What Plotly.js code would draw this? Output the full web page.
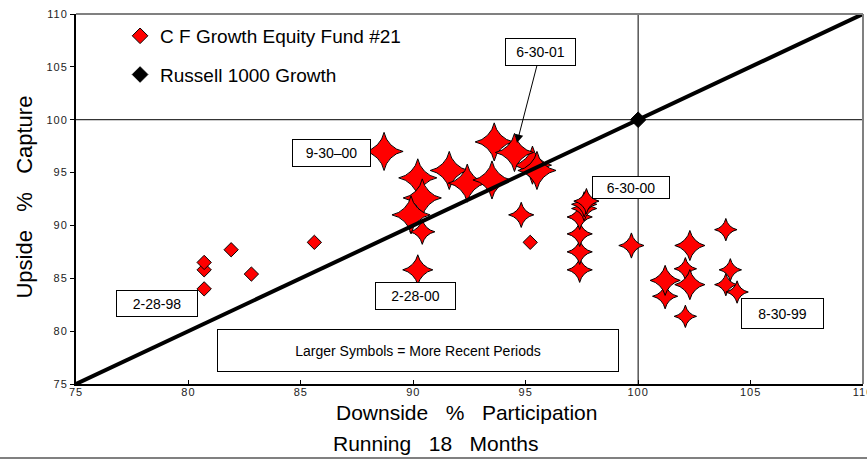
<!DOCTYPE html>
<html><head><meta charset="utf-8">
<script src="https://cdn.plot.ly/plotly-3.0.1.min.js"></script>
<style>
html,body{margin:0;padding:0;background:#fff;}
#chart{width:867px;height:459px;}
.xtick text, .ytick text { letter-spacing: 1px; }
</style>
</head><body><div id="chart"></div>
<script>
// ---- data ----
const seriesName = 'C F Growth Equity Fund #21';
const benchName = 'Russell 1000 Growth';
// Downside % participation (x) and Upside % capture (y), running 18 months
const fundDownside = [80.7, 80.7, 80.7, 81.9, 82.8, 85.6, 95.2,
  103.9, 104.1, 103.9, 104.4, 102.1, 102.1,
  101.2, 99.7, 97.4, 97.4, 97.4, 97.4, 94.8, 90.4, 97.6, 97.6, 97.7,
  101.2, 102.3, 102.3, 90.2,
  88.7, 90.2, 90.4, 89.9, 91.6, 92.4, 93.5, 93.6, 95.3, 95.5, 94.5];
const fundUpside = [84.0, 85.8, 86.5, 87.7, 85.4, 88.4, 88.4,
  89.6, 85.8, 84.4, 83.7, 81.4, 85.9,
  83.3, 88.1, 85.8, 87.5, 89.2, 90.8, 91.0, 89.4, 91.6, 92.0, 92.3,
  84.8, 84.4, 88.1, 85.8,
  97.0, 94.5, 92.6, 91.0, 95.2, 94.0, 94.3, 97.9, 95.7, 95.2, 96.9];
// recency tier of each period (1 = oldest ... 5 = most recent)
const fundTier = [1, 1, 1, 1, 1, 1, 1,
  2, 2, 2, 2, 2, 2,
  3, 3, 3, 3, 3, 3, 3, 3, 3, 3, 3,
  4, 4, 4, 4,
  5, 5, 5, 5, 5, 5, 5, 5, 5, 5, 5];
const benchDownside = [100];
const benchUpside = [100];
const parityX = [75, 110];
const parityY = [75, 110];
const xTickVals = [75, 80, 85, 90, 95, 100, 105, 110];
const yTickVals = [75, 80, 85, 90, 95, 100, 105, 110];
const periodLabels = ['6-30-01', '9-30\u201300', '6-30-00', '2-28-98', '2-28-00', '8-30-99'];
const noteText = 'Larger Symbols = More Recent Periods';
const xTitle1 = 'Downside\u00a0\u00a0 %\u00a0\u00a0 Participation';
const xTitle2 = 'Running\u00a0\u00a0 18\u00a0\u00a0 Months';
const yTitle = 'Upside\u00a0\u00a0 %\u00a0\u00a0 Capture';

// ---- styles ----
const tierSymbol = {1:'diamond', 2:'star-diamond', 3:'star-diamond', 4:'star-diamond', 5:'star-square'};
const tierSize = {1:11, 2:16, 3:18, 4:21.5, 5:24.5};
const tierAngle = {1:0, 2:0, 3:0, 4:0, 5:45};
const RED = '#ff0000';
const FONT = 'Liberation Sans, Arial, sans-serif';

const traces = [
  { // legend entry for fund
    x:[null], y:[null], type:'scatter', mode:'markers', name: seriesName, legendgroup:'a',
    marker:{symbol:'diamond', size:12, color:RED, line:{color:'#000', width:1}}, hoverinfo:'skip'
  },
  {
    x: fundDownside, y: fundUpside, type:'scatter', mode:'markers', showlegend:false, legendgroup:'a',
    marker:{
      symbol: fundTier.map(t => tierSymbol[t]),
      size: fundTier.map(t => tierSize[t]),
      angle: fundTier.map(t => tierAngle[t]),
      color: RED, line:{color:'#000', width:1}, opacity:1
    }
  },
  {
    x: parityX, y: parityY, type:'scatter', mode:'lines', showlegend:false, legendgroup:'a',
    line:{color:'#000', width:4}, hoverinfo:'skip'
  },
  {
    x: benchDownside, y: benchUpside, type:'scatter', mode:'markers', name: benchName, legendgroup:'b',
    marker:{symbol:'diamond', size:12, color:'#000', line:{color:'#000', width:1}}
  }
];

function box(text, x, y, w, h, extra) {
  return Object.assign({
    text: text, x: x, y: y, xref:'x', yref:'y', showarrow:false,
    width: w, height: h, bgcolor:'#fff', bordercolor:'#000', borderwidth:1, borderpad:1,
    font:{family:FONT, size:14, color:'#000'}, align:'center', valign:'middle'
  }, extra || {});
}

const annotations = [
  box(periodLabels[0], 94.61, 97.8, 67, 24, {showarrow:true, axref:'x', ayref:'y', ax:95.66, ay:106.45,
      arrowhead:2, arrowsize:1.7, arrowwidth:1, arrowcolor:'#000', standoff:0}),
  box(periodLabels[1], 86.37, 96.85, 75, 24),
  box(periodLabels[2], 99.69, 93.6, 74, 19),
  box(periodLabels[3], 78.59, 82.59, 78, 23),
  box(periodLabels[4], 90.11, 83.37, 77, 24),
  box(periodLabels[5], 106.42, 81.68, 79, 27),
  box(noteText, 90.23, 78.15, 398, 39),
  {text:xTitle1, xref:'paper', yref:'paper', x:0.4968, y:-0.078, xanchor:'center', yanchor:'middle',
   showarrow:false, font:{family:FONT, size:21, color:'#000'}},
  {text:xTitle2, xref:'paper', yref:'paper', x:0.4568, y:-0.162, xanchor:'center', yanchor:'middle',
   showarrow:false, font:{family:FONT, size:21, color:'#000'}},
  {text:yTitle, xref:'paper', yref:'paper', x:-0.066, y:0.504, xanchor:'center', yanchor:'middle',
   textangle:-90, showarrow:false, font:{family:FONT, size:22, color:'#000'}}
];

const shapes = [
  {type:'line', xref:'x', yref:'paper', x0:100, x1:100, y0:0, y1:1, line:{color:'#000', width:1}, layer:'below'},
  {type:'line', xref:'paper', yref:'y', x0:0, x1:1, y0:100, y1:100, line:{color:'#000', width:1}, layer:'below'},
  {type:'line', xref:'paper', yref:'paper', x0:0, x1:1, y0:1, y1:1, line:{color:'#808080', width:2}},
  {type:'line', xref:'paper', yref:'paper', x0:1, x1:1, y0:0, y1:1, line:{color:'#808080', width:2}},
  {type:'line', xref:'paper', yref:'paper', x0:-0.0966, x1:1.006, y0:-0.2, y1:-0.2, line:{color:'#808080', width:2}}
];

const axisCommon = {
  range:[75,110], showgrid:false, zeroline:false, showline:true, linecolor:'#000', linewidth:2,
  tickcolor:'#000', ticklen:4, tickwidth:1, fixedrange:true, ticklabeloverflow:'allow',
  tickfont:{family:FONT, size:11, color:'#222'}
};

const layout = {
  width:867, height:459,
  margin:{l:76, r:4, t:14, b:75, pad:0},
  paper_bgcolor:'#fff', plot_bgcolor:'#fff',
  font:{family:FONT, color:'#000'},
  showlegend:true,
  legend:{x:0.056, y:0.992, xanchor:'left', yanchor:'top', bgcolor:'rgba(0,0,0,0)',
          font:{family:FONT, size:19, color:'#000'}, tracegroupgap:11, traceorder:'grouped'},
  xaxis:Object.assign({}, axisCommon, {tickvals:xTickVals, ticks:'inside', ticklabelstandoff:-3}),
  yaxis:Object.assign({}, axisCommon, {tickvals:yTickVals, ticks:'outside'}),
  shapes:shapes,
  annotations:annotations,
  hovermode:false
};

Plotly.newPlot('chart', traces, layout, {staticPlot:true, displayModeBar:false});
</script>
</body></html>
